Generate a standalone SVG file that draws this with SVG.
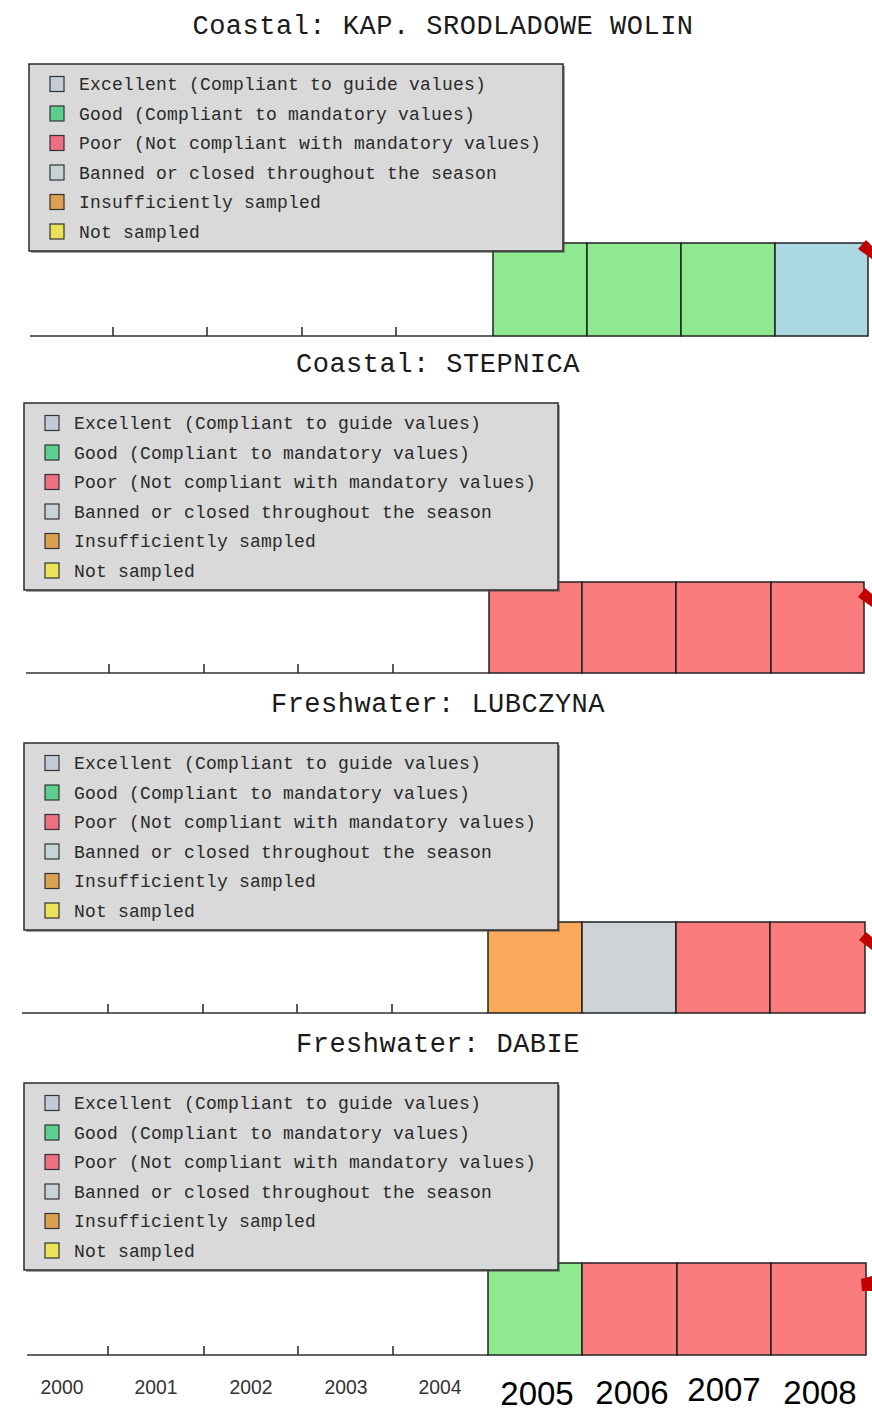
<svg xmlns="http://www.w3.org/2000/svg" xmlns:xlink="http://www.w3.org/1999/xlink" width="872" height="1411" viewBox="0 0 872 1411">
<style>
.title{font-family:"Liberation Mono","DejaVu Sans Mono",monospace;font-size:27px;letter-spacing:0.5px;fill:#1a1a1a;text-anchor:middle}
.leg{font-family:"Liberation Mono","DejaVu Sans Mono",monospace;font-size:18px;letter-spacing:0.2px;fill:#2a2a2a}
.box{fill:#d9d9d9;stroke:#2a2a2a;stroke-width:1.5}
.shadow{fill:#555;opacity:0.55}
.sw{stroke:#333;stroke-width:1.2}
.bar{stroke:#222;stroke-width:1.5}
.axis{stroke:#333;stroke-width:1.6;fill:none}
.mark{fill:#c00000}
.yr{font-family:"Liberation Sans","Arial",sans-serif;font-size:20px;fill:#333;text-anchor:middle}
.big{font-family:"Liberation Sans","Arial",sans-serif;font-size:33px;fill:#000;text-anchor:middle}
.g{fill:#8fea8f}.r{fill:#fb7c7c}.b{fill:#acd8e2}.o{fill:#fba95b}.gr{fill:#cfd3d5}
</style>
<defs>
<g id="legend">
<rect class="shadow" x="2" y="2" width="534" height="187"/>
<rect class="box" x="0" y="0" width="534" height="187"/>
<rect class="sw" x="21" y="12.5" width="14" height="15" fill="#c3ccd6"/>
<rect class="sw" x="21" y="42" width="14" height="15" fill="#5ccf8e"/>
<rect class="sw" x="21" y="71.5" width="14" height="15" fill="#ec6f82"/>
<rect class="sw" x="21" y="101" width="14" height="15" fill="#c6d4d6"/>
<rect class="sw" x="21" y="130.5" width="14" height="15" fill="#dba052"/>
<rect class="sw" x="21" y="160" width="14" height="15" fill="#ece25a"/>
<text class="leg" x="50" y="26">Excellent (Compliant to guide values)</text>
<text class="leg" x="50" y="55.5">Good (Compliant to mandatory values)</text>
<text class="leg" x="50" y="85">Poor (Not compliant with mandatory values)</text>
<text class="leg" x="50" y="114.5">Banned or closed throughout the season</text>
<text class="leg" x="50" y="144">Insufficiently sampled</text>
<text class="leg" x="50" y="173.5">Not sampled</text>
</g>
</defs>
<rect x="0" y="0" width="872" height="1411" fill="#ffffff"/>

<g id="panel-kap-srodladowe-wolin">
<text class="title" x="443" y="34">Coastal: KAP. SRODLADOWE WOLIN</text>
<path class="axis" d="M30 336H493M113 336V327M207 336V327M302 336V327M396 336V327"/>
<rect class="bar g" x="493" y="243" width="94" height="93"/>
<rect class="bar g" x="587" y="243" width="94" height="93"/>
<rect class="bar g" x="681" y="243" width="94" height="93"/>
<rect class="bar b" x="775" y="243" width="93" height="93"/>
<use href="#legend" xlink:href="#legend" x="29" y="64"/>
<polygon class="mark" points="858,249 866,240 872,246 872,259"/>
</g>

<g id="panel-stepnica">
<text class="title" x="438" y="372">Coastal: STEPNICA</text>
<path class="axis" d="M26 673H489M109 673V664M204 673V664M298 673V664M393 673V664"/>
<rect class="bar r" x="489" y="582" width="93" height="91"/>
<rect class="bar r" x="582" y="582" width="94" height="91"/>
<rect class="bar r" x="676" y="582" width="95" height="91"/>
<rect class="bar r" x="771" y="582" width="93" height="91"/>
<use href="#legend" xlink:href="#legend" x="24" y="403"/>
<polygon class="mark" points="858,597 865,588 872,594 872,607"/>
</g>

<g id="panel-lubczyna">
<text class="title" x="438" y="712">Freshwater: LUBCZYNA</text>
<path class="axis" d="M22 1013H488M108 1013V1004M203 1013V1004M297 1013V1004M392 1013V1004"/>
<rect class="bar o" x="488" y="922" width="94" height="91"/>
<rect class="bar gr" x="582" y="922" width="94" height="91"/>
<rect class="bar r" x="676" y="922" width="94" height="91"/>
<rect class="bar r" x="770" y="922" width="95" height="91"/>
<use href="#legend" xlink:href="#legend" x="24" y="743"/>
<polygon class="mark" points="859,940 866,932 872,937 872,950"/>
</g>

<g id="panel-dabie">
<text class="title" x="438" y="1052">Freshwater: DABIE</text>
<path class="axis" d="M27 1355H488M108 1355V1346M204 1355V1346M298 1355V1346M393 1355V1346"/>
<rect class="bar g" x="488" y="1263" width="94" height="92"/>
<rect class="bar r" x="582" y="1263" width="95" height="92"/>
<rect class="bar r" x="677" y="1263" width="94" height="92"/>
<rect class="bar r" x="771" y="1263" width="95" height="92"/>
<use href="#legend" xlink:href="#legend" x="24" y="1083"/>
<polygon class="mark" points="861,1279 872,1276 872,1291 862,1291"/>
</g>

<g id="year-labels">
<text class="yr" x="62" y="1394" textLength="43" lengthAdjust="spacingAndGlyphs">2000</text>
<text class="yr" x="156" y="1394" textLength="43" lengthAdjust="spacingAndGlyphs">2001</text>
<text class="yr" x="251" y="1394" textLength="43" lengthAdjust="spacingAndGlyphs">2002</text>
<text class="yr" x="346" y="1394" textLength="43" lengthAdjust="spacingAndGlyphs">2003</text>
<text class="yr" x="440" y="1394" textLength="43" lengthAdjust="spacingAndGlyphs">2004</text>
<text class="big" x="537" y="1405">2005</text>
<text class="big" x="632" y="1404">2006</text>
<text class="big" x="724" y="1401">2007</text>
<text class="big" x="820" y="1404">2008</text>
</g>
</svg>
